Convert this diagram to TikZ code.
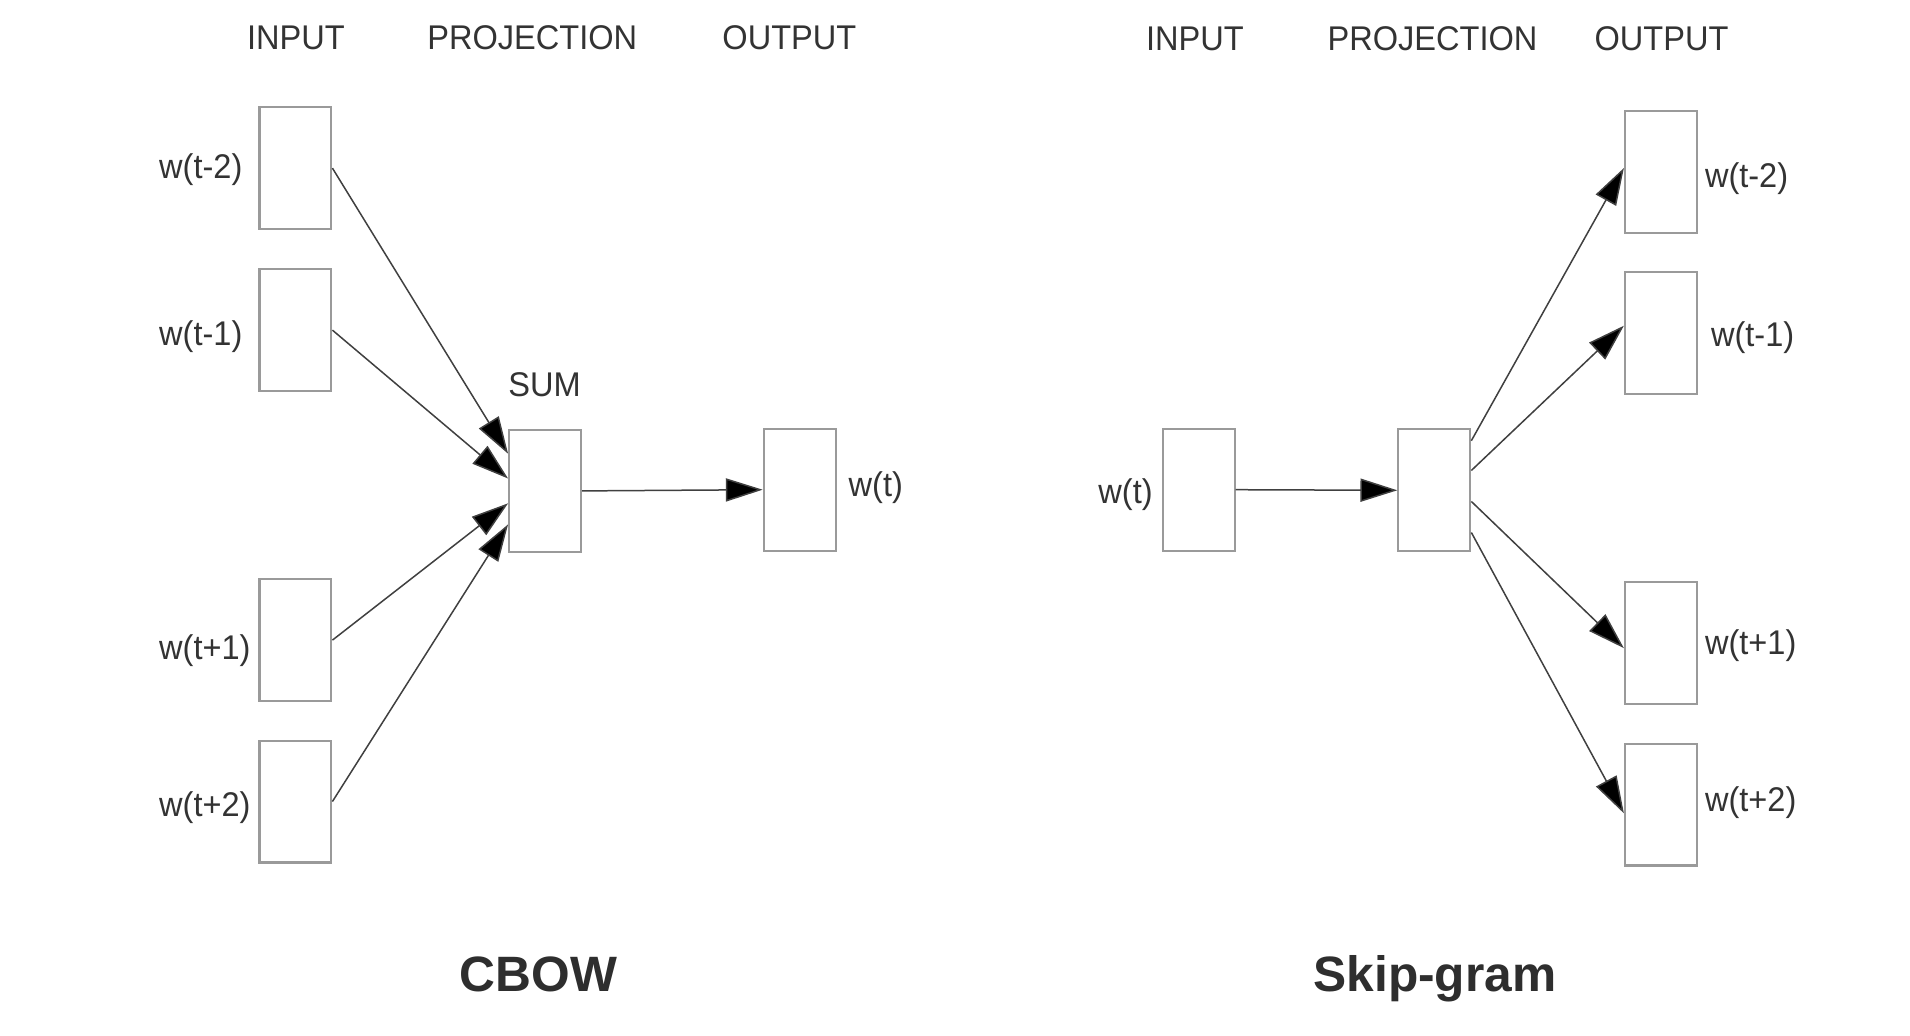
\documentclass[tikz,border=0pt]{standalone}
\usepackage{fontspec}
\setmainfont{Liberation Sans}
\newfontfamily\lblfont{Liberation Sans}[FakeStretch=0.95]
\usetikzlibrary{arrows.meta,calc}
\definecolor{txtgray}{HTML}{333333}
\definecolor{boxgray}{HTML}{9A9A9A}
\definecolor{linegray}{HTML}{404040}
\begin{document}
\begin{tikzpicture}[x=0.01cm,y=-0.01cm,
  wbox/.style={draw=boxgray,line width=0.5pt,fill=white,minimum width=0.59cm,minimum height=1cm,inner sep=0pt},
  lbl/.style={text=txtgray,font=\lblfont\fontsize{8}{9.6}\selectfont,inner sep=0pt},
  ttl/.style={text=txtgray!90!black,font=\bfseries\fontsize{11.6}{14}\selectfont,inner sep=0pt,anchor=base},
  conn/.style={draw=linegray,line width=0.35pt,-{Triangle[length=8.6pt,width=5.4pt,fill=black]}}]
\useasboundingbox[fill=white] (0,0) rectangle (1568,850);

% ---------- CBOW ----------
\node[lbl] (hin1) at (243,31) {INPUT};
\node[lbl] (hpr1) at (437,31) {PROJECTION};
\node[lbl] (hout1) at (648,31) {OUTPUT};

\node[wbox] (c1) at (242.5,138) {};
\node[wbox] (c2) at (242.5,271) {};
\node[wbox] (c3) at (242.5,525.5) {};
\node[wbox] (c4) at (242.5,658) {};
\node[lbl,anchor=west] (lc1) at (130,139) {w(t-2)};
\node[lbl,anchor=west] (lc2) at (130,276) {w(t-1)};
\node[lbl,anchor=west] (lc3) at (130,534) {w(t+1)};
\node[lbl,anchor=west] (lc4) at (130,663) {w(t+2)};

\node[wbox] (sum) at (447.5,403) {};
\node[lbl] (sumlbl) at (447,316) {SUM};
\node[wbox] (cout) at (656.5,402) {};
\node[lbl,anchor=west] (lcout) at (696,400) {w(t)};

\draw[conn] (c1.east) -- ($(sum.north west)!0.2!(sum.south west)$);
\draw[conn] (c2.east) -- ($(sum.north west)!0.4!(sum.south west)$);
\draw[conn] (c3.east) -- ($(sum.north west)!0.6!(sum.south west)$);
\draw[conn] (c4.east) -- ($(sum.north west)!0.77!(sum.south west)$);
\draw[conn] (sum.east) -- (cout.west);

\node[ttl] (tcbow) at (442,814) {CBOW};

% ---------- Skip-gram ----------
\node[lbl] (hin2) at (981,32) {INPUT};
\node[lbl] (hpr2) at (1176,32) {PROJECTION};
\node[lbl] (hout2) at (1364,32) {OUTPUT};

\node[wbox] (sin) at (984,402) {};
\node[lbl,anchor=east] (lsin) at (947,406) {w(t)};
\node[wbox] (proj) at (1177.5,402.5) {};

\node[wbox] (s1) at (1363.5,141) {};
\node[wbox] (s2) at (1363.5,273.5) {};
\node[wbox] (s3) at (1363.5,528) {};
\node[wbox] (s4) at (1363.5,660.5) {};
\node[lbl,anchor=west] (ls1) at (1399,147) {w(t-2)};
\node[lbl,anchor=west] (ls2) at (1404,277) {w(t-1)};
\node[lbl,anchor=west] (ls3) at (1399,530) {w(t+1)};
\node[lbl,anchor=west] (ls4) at (1399,659) {w(t+2)};

\draw[conn] (sin.east) -- (proj.west);
\draw[conn] ($(proj.north east)!0.1!(proj.south east)$) -- ($(s1.north west)!0.47!(s1.south west)$);
\draw[conn] ($(proj.north east)!0.34!(proj.south east)$) -- ($(s2.north west)!0.44!(s2.south west)$);
\draw[conn] ($(proj.north east)!0.59!(proj.south east)$) -- ($(s3.north west)!0.54!(s3.south west)$);
\draw[conn] ($(proj.north east)!0.84!(proj.south east)$) -- ($(s4.north west)!0.57!(s4.south west)$);

\node[ttl] (tskip) at (1178,814) {Skip-gram};
\end{tikzpicture}
\end{document}
